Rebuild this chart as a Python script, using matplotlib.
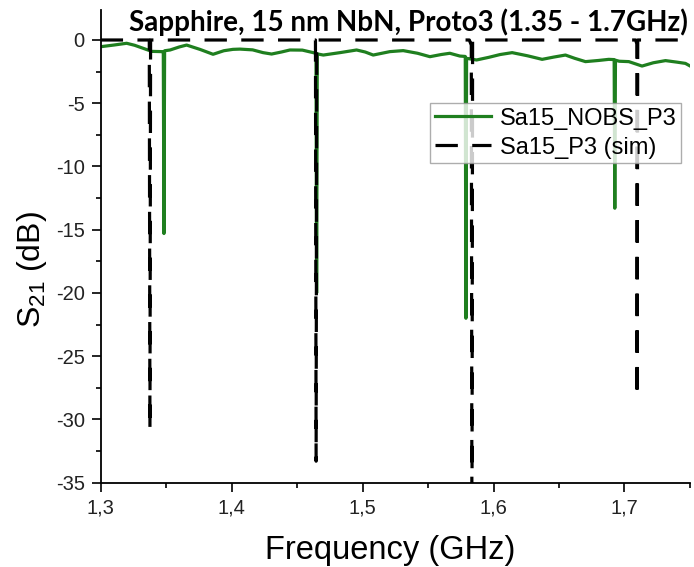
import matplotlib
matplotlib.use("Agg")
import matplotlib.pyplot as plt
from matplotlib.ticker import MultipleLocator, FuncFormatter

# measured trace (GHz, dB)
meas_f = [1.3000, 1.3100, 1.3198, 1.3260, 1.3325, 1.3390, 1.3470, 1.3478, 1.3483, 1.3488,
          1.3530, 1.3600, 1.3656, 1.3760, 1.3858, 1.3940, 1.4010, 1.4063, 1.4160, 1.4240,
          1.4305, 1.4380, 1.4445, 1.4540, 1.4623, 1.4644, 1.4649, 1.4654, 1.4700, 1.4827,
          1.4954, 1.5020, 1.5081, 1.5208, 1.5310, 1.5420, 1.5514, 1.5600, 1.5666, 1.5743,
          1.5784, 1.5789, 1.5794, 1.5870, 1.5964, 1.6050, 1.6142, 1.6260, 1.6371, 1.6460,
          1.6549, 1.6620, 1.6702, 1.6800, 1.6880, 1.6921, 1.6926, 1.6931, 1.6960, 1.7033,
          1.7134, 1.7220, 1.7313, 1.7400, 1.7465, 1.7500]
meas_db = [-0.53, -0.40, -0.26, -0.42, -0.66, -0.90, -0.92, -0.92, -15.3, -0.85,
           -0.79, -0.55, -0.40, -0.75, -1.13, -0.85, -0.74, -0.72, -0.78, -1.00,
           -1.11, -0.95, -0.79, -0.80, -1.00, -1.05, -20.0, -1.10, -1.19, -1.00,
           -0.79, -0.95, -1.19, -0.92, -0.84, -1.05, -1.32, -1.15, -1.05, -1.27,
           -1.30, -22.0, -1.45, -1.58, -1.37, -1.15, -1.00, -1.25, -1.53, -1.35,
           -1.19, -1.45, -1.71, -1.62, -1.53, -1.55, -13.3, -1.60, -1.68, -1.71,
           -2.06, -1.80, -1.63, -1.75, -1.85, -2.05]

# simulated trace (GHz, dB)
sim_f = [1.3000, 1.3371, 1.3376, 1.3381, 1.4640, 1.4645, 1.4650, 1.5815, 1.5830,
         1.5835, 1.5840, 1.7085, 1.7094, 1.7096, 1.7101, 1.7500]
sim_db = [0.0, 0.0, -30.8, 0.0, 0.0, -33.3, 0.0, 0.0, -0.4,
          -40.0, 0.0, 0.0, -0.3, -28.2, 0.0, 0.0]

plt.rcParams['font.family'] = ['Liberation Sans', 'DejaVu Sans']
plt.rcParams['mathtext.default'] = 'regular'

fig = plt.figure(figsize=(6.94, 5.67), dpi=100)
ax = fig.add_axes([0.1451, 0.1487, 0.8491, 0.8343])

ax.plot(meas_f, meas_db, color='#1f7f1f', lw=2.3, label='Sa15_NOBS_P3')
ax.plot(sim_f, sim_db, color='black', lw=2.3, dashes=(7, 4.5), label='Sa15_P3 (sim)')

ax.set_xlim(1.3, 1.75)
ax.set_ylim(-35, 2.4)
ax.xaxis.set_major_locator(MultipleLocator(0.1))
ax.xaxis.set_minor_locator(MultipleLocator(0.05))
ax.yaxis.set_major_locator(MultipleLocator(5))
ax.yaxis.set_minor_locator(MultipleLocator(2.5))
ax.xaxis.set_major_formatter(FuncFormatter(lambda v, p: ('%.1f' % v).replace('.', ',')))
ax.yaxis.set_major_formatter(FuncFormatter(lambda v, p: '%d' % round(v)))

for s in ['top', 'right']:
    ax.spines[s].set_visible(False)
for s in ['left', 'bottom']:
    ax.spines[s].set_linewidth(1.3)
ax.tick_params(which='major', direction='out', length=6.5, width=1.2, labelsize=14.5,
               labelcolor='#222222', pad=5)
ax.tick_params(which='minor', direction='out', length=3.6, width=1.2)

ax.set_xlabel('Frequency (GHz)', fontsize=23.5)
ax.set_ylabel('S$_{21}$ (dB)', fontsize=23)
ax.xaxis.set_label_coords(0.491, -0.11)
ax.yaxis.set_label_coords(-0.088, 0.45)

fig.text(0.588, 0.961, 'Sapphire, 15 nm NbN, Proto3 (1.35 - 1.7GHz)', fontsize=20,
         fontweight='bold', family=['Lato', 'DejaVu Sans'], ha='center', va='center')

leg = ax.legend(loc='upper left', bbox_to_anchor=(0.559, 0.803), fontsize=17,
                frameon=True, fancybox=False, borderpad=0.2, handletextpad=0.35,
                handlelength=2.4, borderaxespad=0, labelspacing=0.3)
leg.get_frame().set_edgecolor('#999999')
leg.get_frame().set_linewidth(1.0)

fig.savefig('out.png', dpi=100)
